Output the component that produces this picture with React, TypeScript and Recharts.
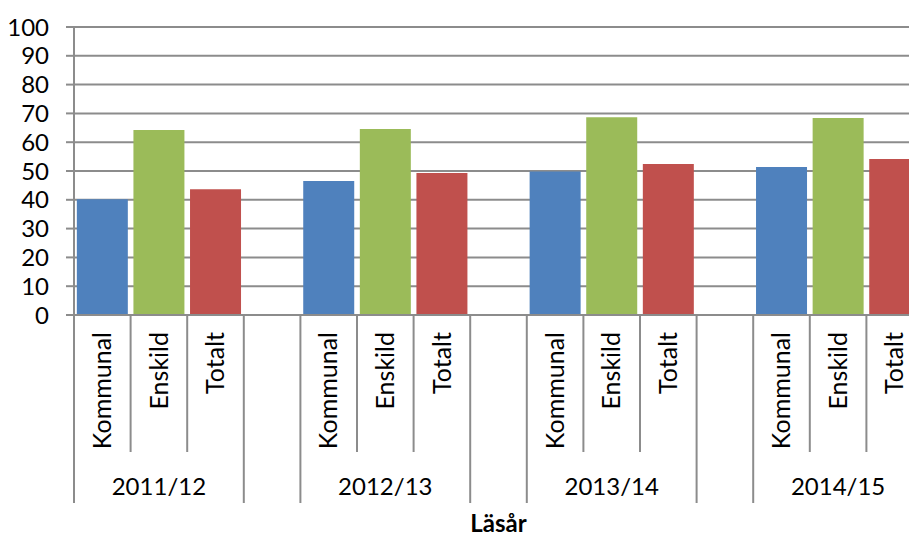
import React from 'react';
import { BarChart, Bar, XAxis, YAxis, CartesianGrid, Cell, Label } from 'recharts';

const YEARS = ['2011/12', '2012/13', '2013/14', '2014/15'];
const KINDS = ['Kommunal', 'Enskild', 'Totalt'];
const KOMMUNAL = [40.2, 46.5, 49.8, 51.4];
const ENSKILD = [64.2, 64.6, 68.7, 68.4];
const TOTALT = [43.7, 49.3, 52.4, 54.2];
const Y_TICKS = [0, 10, 20, 30, 40, 50, 60, 70, 80, 90, 100];

const COLORS = ['#4F81BD', '#9BBB59', '#C0504D'];
const GRID = '#8C8C8C';
const FONT = 'Lato, "Open Sans", sans-serif';

type Row = { key: string; year: string; kind: string; kindIndex: number; value: number | null };

// one slot per bar, with an empty slot between the school years
const rows: Row[] = [];
YEARS.forEach((year, yi) => {
  [KOMMUNAL, ENSKILD, TOTALT].forEach((series, ki) => {
    rows.push({ key: `${year} ${KINDS[ki]}`, year, kind: KINDS[ki], kindIndex: ki, value: series[yi] });
  });
  if (yi < YEARS.length - 1) {
    rows.push({ key: `gap ${yi}`, year: '', kind: '', kindIndex: -1, value: null });
  }
});

const CategoryTick = (props: any) => {
  const { x, y, payload } = props;
  const i = props.index ?? payload.index;
  const row = rows[i];
  if (!row) return null;
  const half = payload.offset || 28.3;
  const left = x - half;
  const longLeft = row.kindIndex <= 0;
  const isLast = i === rows.length - 1;
  return (
    <g>
      <line x1={left} y1={y} x2={left} y2={y + (longLeft ? 188 : 137)} stroke={GRID} strokeWidth={2} />
      {isLast && <line x1={x + half} y1={y} x2={x + half} y2={y + 188} stroke={GRID} strokeWidth={2} />}
      {row.kind && (
        <text
          x={x}
          y={y + 17}
          dy="0.35em"
          textAnchor="end"
          transform={`rotate(-90 ${x} ${y + 17})`}
          fontSize={25}
          fontFamily={FONT}
          fill="#000"
        >
          {row.kind}
        </text>
      )}
      {row.kindIndex === 1 && (
        <text x={x} y={y + 180} textAnchor="middle" fontSize={24} fontFamily={FONT} fill="#000">
          {row.year}
        </text>
      )}
    </g>
  );
};

const App: React.FC = () => {
  return (
    <div style={{ position: 'absolute', left: 0, top: 0, width: 909, height: 536, overflow: 'hidden', background: '#fff' }}>
      <BarChart
        width={923}
        height={536}
        data={rows}
        margin={{ top: 27, right: 0, left: 0, bottom: 0 }}
        barCategoryGap="5%"
        style={{ fontFamily: FONT }}
      >
        <CartesianGrid horizontal vertical={false} stroke={GRID} strokeWidth={2} />
        <YAxis
          width={74}
          domain={[0, 100]}
          ticks={Y_TICKS}
          interval={0}
          tickSize={8}
          tickMargin={17}
          axisLine={{ stroke: GRID, strokeWidth: 2 }}
          tickLine={{ stroke: GRID, strokeWidth: 2 }}
          tick={{ fill: '#000', fontSize: 24, fontFamily: FONT }}
        />
        <XAxis
          dataKey="key"
          height={221}
          interval={0}
          tickSize={0}
          tickMargin={0}
          tickLine={false}
          axisLine={{ stroke: GRID, strokeWidth: 2 }}
          tick={<CategoryTick />}
        >
          <Label
            value="Läsår"
            position="insideBottom"
            offset={4}
            style={{ fontWeight: 'bold', fontSize: 24, fill: '#000', fontFamily: FONT }}
          />
        </XAxis>
        <Bar dataKey="value" isAnimationActive={false}>
          {rows.map((r) => (
            <Cell key={r.key} fill={r.kindIndex >= 0 ? COLORS[r.kindIndex] : 'none'} />
          ))}
        </Bar>
      </BarChart>
    </div>
  );
};

export default App;
